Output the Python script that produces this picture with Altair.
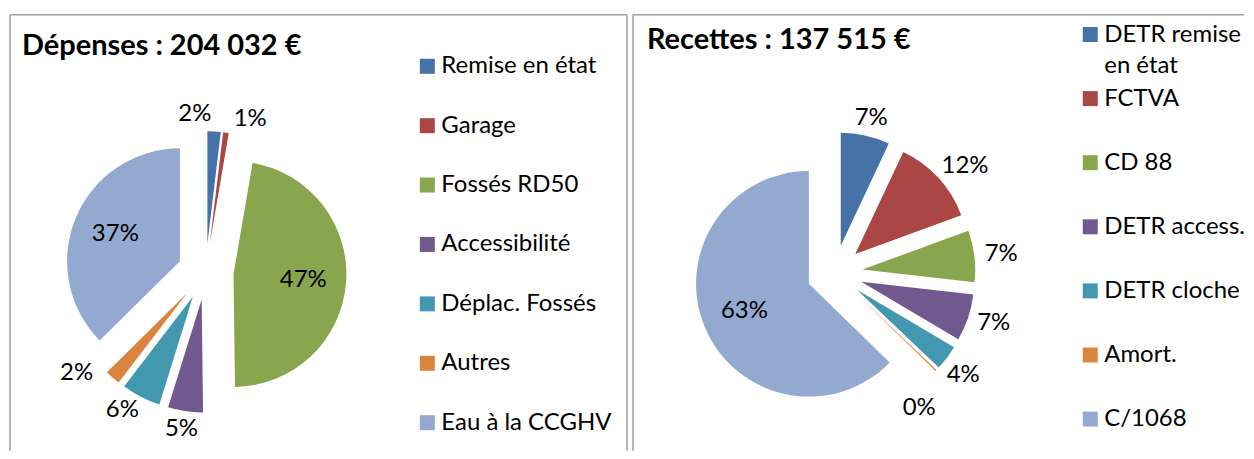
import math
import textwrap
import pandas as pd
import altair as alt

# ---------------- data ----------------
dep_categories = ["Remise en état", "Garage", "Fossés RD50", "Accessibilité",
                  "Déplac. Fossés", "Autres", "Eau à la CCGHV"]
dep_values = [3877, 1632, 96100, 10200, 11426, 4489, 76308]

rec_categories = ["DETR remise en état", "FCTVA", "CD 88", "DETR access.",
                  "DETR cloche", "Amort.", "C/1068"]
rec_values = [9626, 17052, 10176, 9213, 4951, 275, 86222]

titles = ["Dépenses", "Recettes"]

palette = ["#4572A7", "#AA4643", "#89A54E", "#71588F", "#4198AF", "#DB843D", "#93A9CF"]

# ---------------- layout ----------------
FONT = "Lato"
FS = 24
R = 113
EXPLODE = 28
GAP = 9
MIN_SEP = 22
W, H = 1238, 443

panels = [
    dict(cx=206, cy=272, tx=22, ty=46, lx=428, ly=66, ldy=59.5, wrap=18),
    dict(cx=836, cy=273, tx=648, ty=40, lx=1092, ly=34.2, ldy=64.2, wrap=12),
]


def outside_pos(sx, sy, a, pct):
    hw = 9 * len(pct)
    hh = 9
    return (sx + (R + GAP) * math.sin(a) + hw * math.sin(a),
            sy - (R + GAP) * math.cos(a) - hh * math.cos(a))


rows = []
title_rows = []
for pi, (cats, vals, p) in enumerate([(dep_categories, dep_values, panels[0]),
                                       (rec_categories, rec_values, panels[1])]):
    total = sum(vals)
    title_rows.append(dict(t=f"{titles[pi]} : {total:,} €".replace(",", " "),
                           x=p["tx"], y=p["ty"]))
    cum = 0
    items = []
    for i, (c, v) in enumerate(zip(cats, vals)):
        f0 = cum / total
        cum += v
        f1 = cum / total
        mid = (f0 + f1) * math.pi
        items.append(dict(i=i, c=c, v=v, f0=f0, f1=f1, mid=mid,
                          sx=p["cx"] + EXPLODE * math.sin(mid),
                          sy=p["cy"] - EXPLODE * math.cos(mid),
                          pct=f"{round(100 * v / total)}%",
                          inside=v / total > 0.25, a=mid))
    # simple collision avoidance for the outside labels
    outs = [it for it in items if not it["inside"]]
    sep = math.radians(MIN_SEP)
    for k in range(1, len(outs)):
        prev, cur = outs[k - 1], outs[k]
        deficit = prev["a"] + sep - cur["a"]
        if deficit > 0:
            if k == 1:
                prev["a"] -= deficit / 2
                cur["a"] += deficit / 2
            else:
                cur["a"] += deficit
    for it in items:
        if it["inside"]:
            lx = it["sx"] + 0.62 * R * math.sin(it["mid"])
            ly = it["sy"] - 0.62 * R * math.cos(it["mid"])
        else:
            lx, ly = outside_pos(it["sx"], it["sy"], it["a"], it["pct"])
        i = it["i"]
        rows.append(dict(
            pie=pi, idx=i, cat=it["c"], value=it["v"], f0=it["f0"], f1=it["f1"],
            sx=it["sx"], sy=it["sy"], pct=it["pct"], lx=lx, ly=ly,
            gx=p["lx"], gy=p["ly"] + i * p["ldy"], gtx=p["lx"] + 14,
            gtext="\n".join(textwrap.wrap(it["c"], p["wrap"])),
        ))

df = pd.DataFrame(rows)
tdf = pd.DataFrame(title_rows)

xs = alt.Scale(domain=[8, 8 + W], nice=False, zero=False)
ys = alt.Scale(domain=[8, 8 + H], nice=False, zero=False, reverse=True)
col = alt.Color("idx:N", scale=alt.Scale(domain=list(range(7)), range=palette), legend=None)

base = alt.Chart(df)

arcs = base.mark_arc(radius=R).encode(
    x=alt.X("sx:Q", scale=xs, axis=None),
    y=alt.Y("sy:Q", scale=ys, axis=None),
    theta=alt.Theta("f0:Q", scale=alt.Scale(domain=[0, 1], range=[0, 2 * math.pi]), stack=None),
    theta2="f1:Q",
    color=col,
)

labels = base.mark_text(font=FONT, fontSize=FS, color="black", align="center", baseline="middle").encode(
    x=alt.X("lx:Q", scale=xs, axis=None),
    y=alt.Y("ly:Q", scale=ys, axis=None),
    text="pct:N",
)

leg_sq = base.mark_square(size=225, opacity=1).encode(
    x=alt.X("gx:Q", scale=xs, axis=None),
    y=alt.Y("gy:Q", scale=ys, axis=None),
    color=col,
)

leg_txt = base.mark_text(font=FONT, fontSize=FS, color="black", align="left", baseline="top",
                         dy=-12, lineBreak="\n", lineHeight=32).encode(
    x=alt.X("gtx:Q", scale=xs, axis=None),
    y=alt.Y("gy:Q", scale=ys, axis=None),
    text="gtext:N",
)

title_txt = alt.Chart(tdf).mark_text(font=FONT, fontSize=29, fontWeight="bold", color="black",
                                     align="left", baseline="middle").encode(
    x=alt.X("x:Q", scale=xs, axis=None),
    y=alt.Y("y:Q", scale=ys, axis=None),
    text="t:N",
)

BC = "#A0A0A0"
BW = 1.5
one = pd.DataFrame({"k": [0]})
def rule(**enc):
    return alt.Chart(one).mark_rule(color=BC, strokeWidth=BW).encode(**{k: alt.value(v) for k, v in enc.items()})

borders = [
    rule(x=2, x2=620, y=6.5),
    rule(x=2, y=6.5, y2=H),
    rule(x=620, y=6.5, y2=H),
    rule(x=626, x2=W, y=6.5),
    rule(x=626, y=6.5, y2=H),
]

chart = alt.layer(*borders, arcs, labels, leg_sq, leg_txt, title_txt).properties(
    width=W, height=H, padding=0
).configure_view(strokeWidth=0)

chart.save("out.html", embed_options={"renderer": "svg", "actions": False})
